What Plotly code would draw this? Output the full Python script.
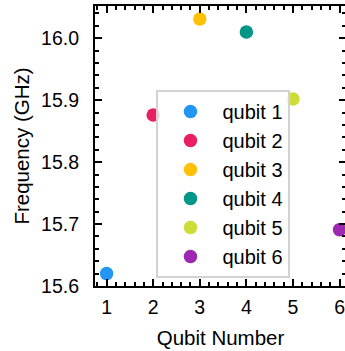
import plotly.graph_objects as go

# Measured qubit frequencies
qubit_numbers = [1, 2, 3, 4, 5, 6]
frequencies_ghz = [15.62, 15.876, 16.031, 16.010, 15.902, 15.691]
series_names = ["qubit 1", "qubit 2", "qubit 3", "qubit 4", "qubit 5", "qubit 6"]
colors = ["#2196F3", "#E91E63", "#FFC107", "#009688", "#CDDC39", "#9C27B0"]

x_tick_vals = [1, 2, 3, 4, 5, 6]
y_tick_vals = [15.6, 15.7, 15.8, 15.9, 16.0]
y_tick_text = ["15.6", "15.7", "15.8", "15.9", "16.0"]

FONT = "Liberation Sans, Arial, Helvetica, sans-serif"
TICK_FS = 19.5
LABEL_FS = 20.5

fig = go.Figure()
for q, f, name, c in zip(qubit_numbers, frequencies_ghz, series_names, colors):
    fig.add_trace(go.Scatter(
        x=[q], y=[f], mode="markers", name=name,
        marker=dict(color=c, size=13.5, line=dict(width=0)),
        cliponaxis=False,
    ))

axis_common = dict(
    showgrid=False, zeroline=False,
    showline=True, linecolor="black", linewidth=2.2, mirror="ticks",
    ticks="inside", ticklen=7, tickwidth=2, tickcolor="black",
    tickfont=dict(family=FONT, size=TICK_FS, color="black"),
)

fig.update_layout(
    width=350, height=351,
    margin=dict(l=95, r=2, t=6, b=65),
    paper_bgcolor="white", plot_bgcolor="white",
    font=dict(family=FONT, size=LABEL_FS, color="black"),
    xaxis=dict(
        range=[0.751, 6.138],
        tickmode="array", tickvals=x_tick_vals,
        minor=dict(dtick=0.2, tick0=0, ticks="inside", ticklen=4, tickwidth=1.5, tickcolor="black"),
        title=dict(text="Qubit Number", font=dict(family=FONT, size=LABEL_FS), standoff=14),
        ticklabelstandoff=2,
        **axis_common,
    ),
    yaxis=dict(
        range=[15.6, 16.052],
        tickmode="array", tickvals=y_tick_vals, ticktext=y_tick_text,
        minor=dict(dtick=0.02, tick0=15.6, ticks="inside", ticklen=4, tickwidth=1.5, tickcolor="black"),
        title=dict(text="Frequency (GHz)", font=dict(family=FONT, size=LABEL_FS), standoff=6),
        ticklabelstandoff=10,
        **axis_common,
    ),
    legend=dict(
        x=0.245, y=0.70, xanchor="left", yanchor="top",
        bgcolor="rgba(255,255,255,0.8)", bordercolor="#d2d2d2", borderwidth=2,
        font=dict(family=FONT, size=20, color="black"),
        itemwidth=54,
    ),
    showlegend=True,
)

fig.write_html(
    "out.html",
    post_script="document.documentElement.style.overflow='hidden';document.body.style.overflow='hidden';",
)
